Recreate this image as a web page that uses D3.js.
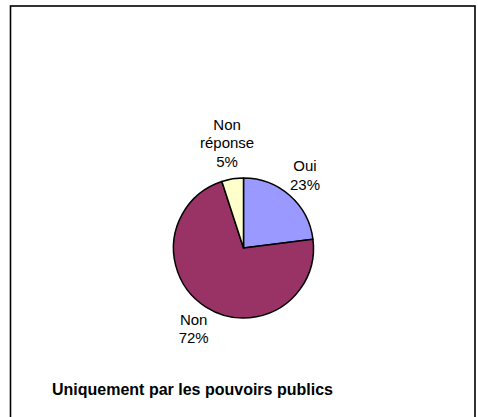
<!DOCTYPE html>
<html>
<head>
<meta charset="utf-8">
<script src="https://cdn.jsdelivr.net/npm/d3@7"></script>
<style>
  body { margin: 0; background: #fff; }
  text { font-family: "Liberation Sans", Arial, sans-serif; fill: #000; }
</style>
</head>
<body>
<svg id="chart" width="478" height="417"></svg>
<script>
// chart data
const categories = ['Oui', 'Non', 'Non réponse'];
const values = [23, 72, 5];
const labelLines = [['Oui', '23%'], ['Non', '72%'], ['Non', 'réponse', '5%']];
const colors = ['#9999ff', '#993366', '#ffffcc'];
const title = 'Uniquement par les pouvoirs publics';

var svg = d3.select('#chart');

// chart area frame (bottom edge runs past the window)
svg.append('rect')
    .attr('x', 10.5)
    .attr('y', 6)
    .attr('width', 464.5)
    .attr('height', 430)
    .attr('fill', '#fff')
    .attr('stroke', '#000')
    .attr('stroke-width', 1.6);

var cx = 243.5, cy = 248, radius = 70;

var pie = d3.pie()
    .sort(null)
    .value(function(d) { return d; });

var arc = d3.arc().innerRadius(0).outerRadius(radius);

var arcs = pie(values);

var g = svg.append('g')
    .attr('transform', 'translate(' + cx + ',' + cy + ')');

// slices
g.selectAll('path.slice')
    .data(arcs)
    .enter()
    .append('path')
    .attr('class', 'slice')
    .attr('d', arc)
    .attr('fill', function(d, i) { return colors[i]; })
    .attr('stroke', '#000')
    .attr('stroke-width', 1.5)
    .attr('stroke-linejoin', 'round');

// labels: anchor on the mid angle, then push the text box outwards
var lineH = 18.5, labelR = 78;
arcs.forEach(function(d, i) {
    var a = (d.startAngle + d.endAngle) / 2;
    var ux = Math.sin(a), uy = -Math.cos(a);
    var lines = labelLines[i];

    var t = g.append('text')
        .attr('text-anchor', 'middle')
        .style('font-size', '15px');

    lines.forEach(function(s) {
        t.append('tspan').text(s);
    });

    var w = d3.max(t.selectAll('tspan').nodes(), function(n) { return n.getComputedTextLength(); });
    var h = lines.length * lineH;
    var bx = labelR * ux + ux * w / 2;
    var by = labelR * uy + uy * h / 2;
    var top = by - h / 2;

    t.selectAll('tspan')
        .attr('x', bx)
        .attr('y', function(s, k) { return top + 14 + k * lineH; });
});

// title
svg.append('text')
    .attr('x', 52)
    .attr('y', 395)
    .style('font-size', '16px')
    .style('font-weight', 'bold')
    .text(title);
</script>
</body>
</html>
